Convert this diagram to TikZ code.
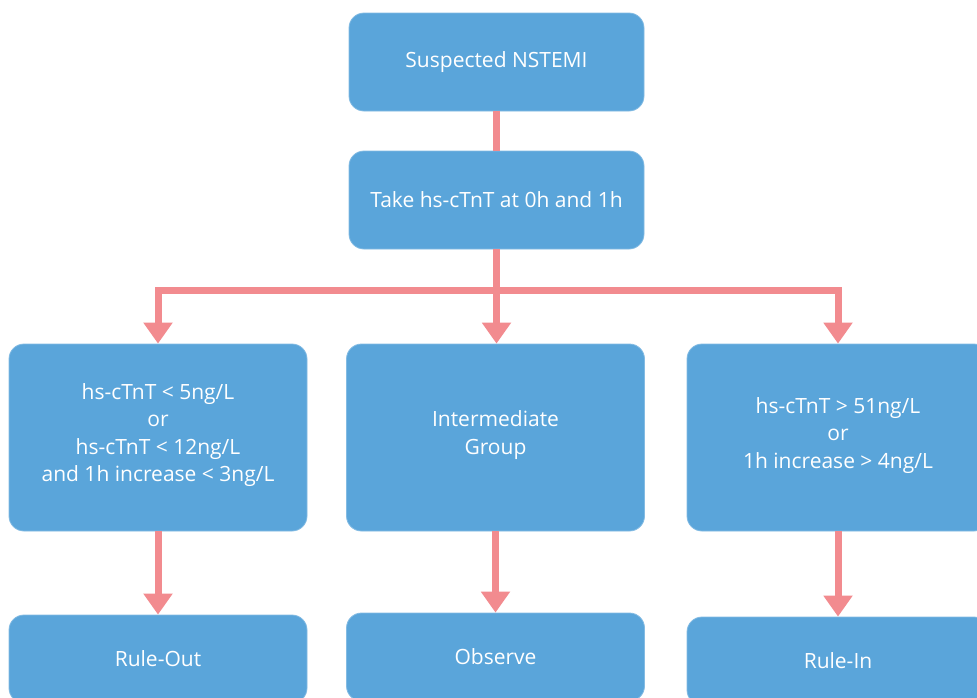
\documentclass[tikz,border=0pt]{standalone}
\usepackage{fontspec}
\setmainfont{Open Sans}
\usetikzlibrary{arrows.meta}
\definecolor{boxblue}{HTML}{5AA5DA}
\definecolor{arrowpink}{HTML}{F28B8F}
\begin{document}
\begin{tikzpicture}[x=1pt,y=-1pt,
  box/.style={draw=boxblue!75!white, line width=0.8pt, fill=boxblue, rounded corners=15pt,
    text=white, font=\fontsize{21}{27.5}\selectfont, align=center, inner sep=0pt},
  smallbox/.style={box, minimum width=295pt, minimum height=98pt},
  tallbox/.style={box, minimum width=298pt, minimum height=187pt},
  endbox/.style={box, minimum width=298pt, minimum height=88pt},
  conn/.style={draw=arrowpink, line width=7pt},
  arr/.style={conn, -{Triangle[width=28pt,length=21pt]}}]
\useasboundingbox (0,0) rectangle (977,697);
\clip (0,0) rectangle (977,697);
\fill[white] (0,0) rectangle (977,697);

\node[smallbox] (top) at (496.5,62) {Suspected NSTEMI};
\node[smallbox] (take) at (496.5,200) {Take hs-cTnT at 0h and 1h};

\node[tallbox] (left) at (158,437.5) {hs-cTnT < 5ng/L\\or\\hs-cTnT < 12ng/L\\and 1h increase < 3ng/L\\[-18pt]};
\node[tallbox] (mid) at (495.5,437.5) {Intermediate\\Group\\[-18pt]};
\node[tallbox, minimum width=302pt] (right) at (838,437.5) {hs-cTnT > 51ng/L\\or\\1h increase > 4ng/L\\[-18pt]};

\node[endbox] (leftb) at (158,659) {Rule-Out};
\node[endbox] (midb) at (495.5,657) {Observe};
\node[endbox, minimum width=302pt] (rightb) at (838,661) {Rule-In};

\coordinate (split) at (496.5,290);

\draw[conn] (top) -- (take);
\draw[arr] (take.south) -- (take.south |- mid.north);
\draw[arr] (split) -| (left.north);
\draw[arr] (split) -| (right.north);
\draw[arr] (left) -- (leftb);
\draw[arr] (mid) -- (midb);
\draw[arr] (right) -- (rightb);
\end{tikzpicture}
\end{document}
